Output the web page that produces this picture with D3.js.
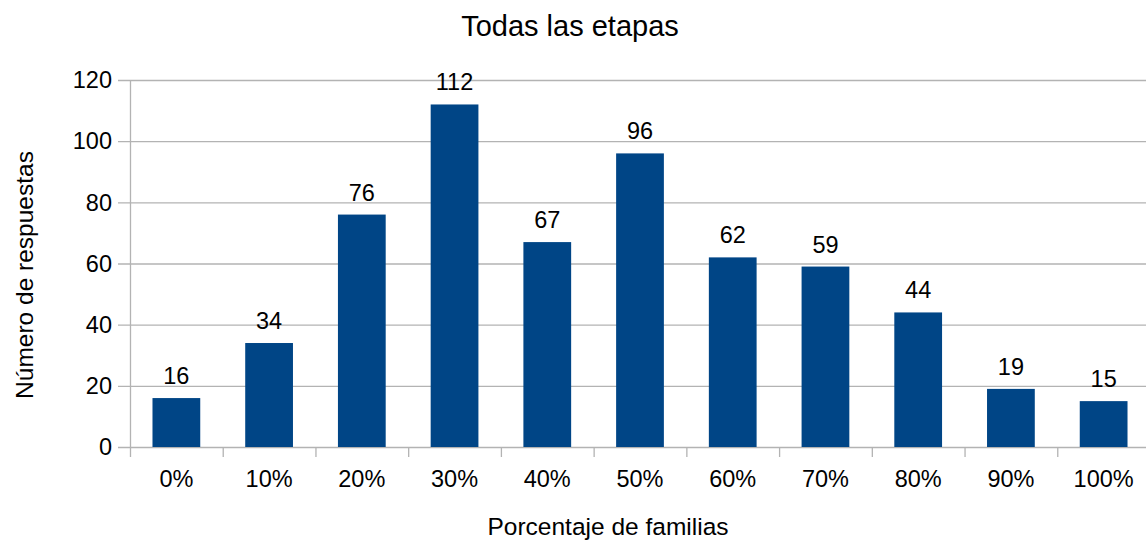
<!DOCTYPE html>
<html><head><meta charset="utf-8">
<script src="https://cdn.jsdelivr.net/npm/d3@7"></script>
<style>
html,body{margin:0;padding:0;background:#fff;}
svg{display:block;font-family:"Liberation Sans",Arial,sans-serif;}
</style></head>
<body>
<svg id="chart" width="1146" height="542"></svg>
<script>
const categories = ["0%","10%","20%","30%","40%","50%","60%","70%","80%","90%","100%"];
const values = [16,34,76,112,67,96,62,59,44,19,15];
const yTicks = [0,20,40,60,80,100,120];
const title = "Todas las etapas";
const xTitle = "Porcentaje de familias";
const yTitle = "Número de respuestas";

(function () {
const svg = d3.select("#chart");
const pLeft = 130, pRight = 1150, pTop = 80, pBottom = 447;
const gridColor = "#b3b3b3";
const barColor = "#004586";

const x = d3.scaleBand().domain(categories).range([pLeft, pRight]).paddingInner(0.485).paddingOuter(0.2425);
const y = d3.scaleLinear().domain([0,120]).range([pBottom, pTop]);

// gridlines
svg.append("g").selectAll("line").data(yTicks).join("line")
  .attr("x1", pLeft - 12).attr("x2", 1146)
  .attr("y1", d => y(d) + 0.5).attr("y2", d => y(d) + 0.5)
  .attr("stroke", gridColor).attr("stroke-width", 1.3);

// y axis line
svg.append("line").attr("x1", pLeft + 0.5).attr("x2", pLeft + 0.5)
  .attr("y1", pTop).attr("y2", pBottom + 10)
  .attr("stroke", gridColor).attr("stroke-width", 1.3);

// x tick marks at band boundaries
const step = (pRight - pLeft) / categories.length;
const bounds = categories.slice(1).map(c => x(c) - x.bandwidth() * 0 - (step - x.bandwidth()) / 2);
svg.append("g").selectAll("line").data(bounds).join("line")
  .attr("x1", d => d + 0.5).attr("x2", d => d + 0.5)
  .attr("y1", pBottom).attr("y2", pBottom + 10)
  .attr("stroke", gridColor).attr("stroke-width", 1.3);

// y tick labels
svg.append("g").selectAll("text").data(yTicks).join("text")
  .attr("x", 112).attr("y", d => y(d)).attr("dy", "0.35em")
  .attr("text-anchor", "end").attr("font-size", 23.5).attr("fill", "#000")
  .text(d => d);

// x tick labels
svg.append("g").selectAll("text").data(categories).join("text")
  .attr("x", d => x(d) + x.bandwidth() / 2).attr("y", 487)
  .attr("text-anchor", "middle").attr("font-size", 23.5).attr("fill", "#000")
  .text(d => d);

// bars
svg.append("g").selectAll("rect").data(values).join("rect")
  .attr("x", (d, i) => x(categories[i]))
  .attr("y", d => y(d))
  .attr("width", x.bandwidth())
  .attr("height", d => pBottom - y(d))
  .attr("fill", barColor);

// value labels
svg.append("g").selectAll("text").data(values).join("text")
  .attr("x", (d, i) => x(categories[i]) + x.bandwidth() / 2)
  .attr("y", d => y(d) - 14)
  .attr("text-anchor", "middle").attr("font-size", 23.5).attr("fill", "#000")
  .text(d => d);

// title
svg.append("text").attr("x", 570).attr("y", 36).attr("text-anchor", "middle")
  .attr("font-size", 29).attr("fill", "#000").text(title);

// x title
svg.append("text").attr("x", 608).attr("y", 535).attr("text-anchor", "middle")
  .attr("font-size", 24.5).attr("fill", "#000").text(xTitle);

// y title
svg.append("text").attr("transform", "translate(33,275) rotate(-90)")
  .attr("text-anchor", "middle").attr("font-size", 24.5).attr("fill", "#000").text(yTitle);
})();
</script>
</body></html>
